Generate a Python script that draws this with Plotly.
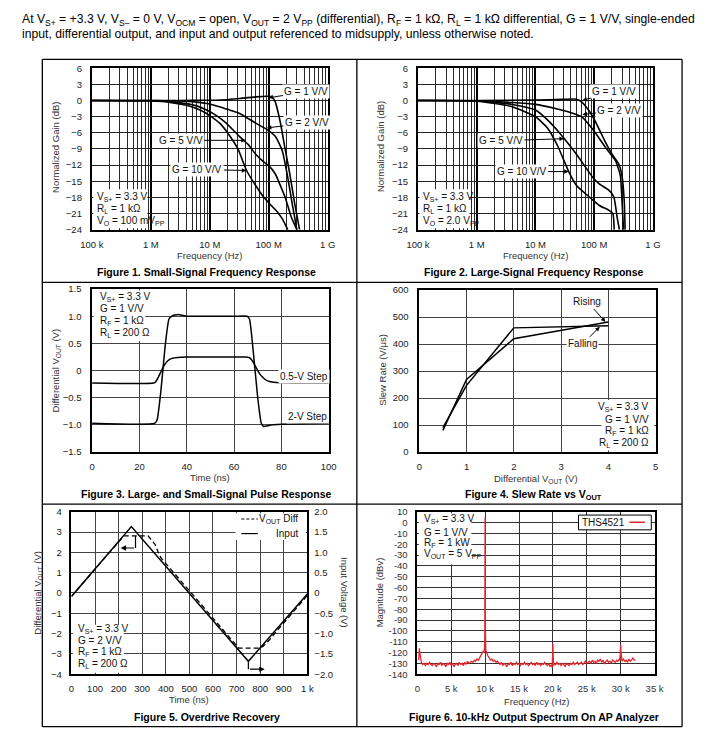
import math
import plotly.graph_objects as go

# The page body adds an 8 px margin, so the figure is drawn 8 px smaller and
# all target pixel positions are shifted by that margin.
OFF = 8
W, H = 726 - OFF, 741 - OFF
FONT = "Liberation Sans, Arial, sans-serif"
NARROW = "Liberation Sans Narrow, Arial Narrow, Liberation Sans, sans-serif"

def PX(px):
    return (px - OFF) / W

def PY(py):
    return 1 - (py - OFF) / H

# ---------------- DATA ----------------
# Figure 1: small-signal frequency response (Hz, dB)
f1_g1_freq = [1e5, 3e6, 9e6, 2e7, 3.2e7, 6e7, 9.4e7, 1.13e8, 1.29e8, 1.56e8, 1.88e8, 2.28e8, 2.76e8, 3.33e8]
f1_g1_db = [0, 0, 0.05, 0.15, 0.37, 0.67, 0.79, 0.67, -0.25, -3.9, -8.8, -13.7, -19.2, -24]
f1_g2_freq = [1e5, 1e6, 3e6, 6e6, 9e6, 1.5e7, 2.2e7, 3.2e7, 6e7, 9.4e7, 1.3e8, 1.7e8, 2.1e8, 2.5e8, 3e8]
f1_g2_db = [0, 0, -0.1, -0.3, -0.55, -1.2, -1.8, -2.4, -4.2, -5.4, -6.7, -9.4, -14.3, -19.2, -24]
f1_g5_freq = [1e5, 1e6, 3e6, 6e6, 9e6, 1.3e7, 1.9e7, 3.2e7, 4.5e7, 6e7, 8e7, 1e8, 1.3e8, 1.6e8, 1.9e8, 2.4e8, 3e8]
f1_g5_db = [0, -0.05, -0.4, -1.0, -1.8, -2.8, -4.2, -6.7, -8.2, -10, -11.3, -12.1, -13.7, -16, -18, -21.6, -24]
f1_g10_freq = [1e5, 1e6, 2e6, 4e6, 7e6, 1e7, 1.5e7, 2e7, 3e7, 4.2e7, 6e7, 8e7, 1.1e8, 1.4e8, 1.7e8, 2.1e8]
f1_g10_db = [0, -0.1, -0.3, -0.9, -1.8, -2.8, -4.3, -6, -9, -13, -15.8, -17.8, -19.5, -20.7, -22, -24]

# Figure 2: large-signal frequency response (Hz, dB)
f2_g1_freq = [1e5, 1e6, 1e7, 3e7, 5e7, 6.1e7, 8.4e7, 1.08e8, 1.48e8, 2.03e8, 2.62e8, 2.97e8, 3.24e8, 3.36e8]
f2_g1_db = [0, 0, 0.1, 0.2, 0.24, -0.24, -2.1, -4.2, -7.3, -10, -11.8, -14, -18.5, -24]
f2_g2_freq = [1e5, 1e6, 4e6, 1e7, 2.1e7, 4.4e7, 6.1e7, 9.5e7, 1.58e8, 2.31e8, 2.79e8, 2.97e8, 3.16e8]
f2_g2_db = [0, -0.06, -0.37, -0.73, -1.46, -2.4, -3.0, -5.4, -8.8, -11.2, -14, -18.5, -24]
f2_g5_freq = [1e5, 1e6, 4e6, 1e7, 1.6e7, 2.7e7, 5e7, 9.5e7, 1.22e8, 1.79e8, 2.16e8, 2.45e8, 2.68e8]
f2_g5_db = [0, -0.06, -0.73, -1.77, -3.6, -6.3, -10, -14.3, -15.5, -16.7, -17.9, -21.6, -24]
f2_g10_freq = [1e5, 1e6, 4e6, 1e7, 1.6e7, 2.4e7, 3.68e7, 5e7, 9.5e7, 1.22e8, 1.79e8, 2.08e8, 2.19e8]
f2_g10_db = [0, -0.12, -1.16, -3, -5.1, -8.5, -13.2, -15.8, -18.5, -19.5, -20.4, -21, -24]

# Figure 3: pulse response (ns, V)
f3_2v_t = [0, 26.5, 27.5, 29, 31, 32.5, 34, 36, 38, 40, 50, 60, 65.5, 66.5, 68, 70, 71.5, 72.5, 74, 76, 80, 90, 100]
f3_2v_v = [-0.97, -0.97, -0.9, -0.4, 0.5, 0.95, 1.01, 1.03, 1.02, 1.0, 1.0, 1.0, 1.0, 0.95, 0.4, -0.5, -0.97, -1.03, -1.02, -1.0, -0.99, -0.98, -0.97]
f3_05v_t = [0, 26, 27, 28, 29, 30, 31, 32, 33, 34, 36, 38, 40, 50, 65, 66, 67, 68, 69, 70, 71, 72, 73, 74, 75, 76, 78, 80, 90, 100]
f3_05v_v = [-0.23, -0.23, -0.2, -0.12, -0.03, 0.06, 0.13, 0.18, 0.21, 0.225, 0.24, 0.245, 0.25, 0.25, 0.25, 0.245, 0.22, 0.16, 0.08, 0.0, -0.07, -0.12, -0.16, -0.185, -0.2, -0.21, -0.22, -0.225, -0.23, -0.23]

# Figure 4: slew rate vs Vout (V, V/us)
f4_vout = [0.5, 1, 2, 4]
f4_rising = [80, 269, 420, 482]
f4_falling = [90, 247, 460, 468]

# Figure 5: overdrive recovery (ns)
f5_out_t = [0, 222, 325, 339, 355, 366, 380, 508, 709, 798, 812, 840, 867, 1000]
f5_out_v = [-0.17, 2.81, 2.81, 2.62, 2.38, 2.05, 1.72, 0.0, -2.71, -2.71, -2.63, -2.3, -1.92, -0.12]
f5_in_t = [0, 254, 750, 1000]
f5_in_v = [-0.085, 1.635, -1.68, -0.025]

# Figure 6: output spectrum (kHz, dBV)
f6_khz = [0.2, 0.3, 0.4, 0.6, 0.8, 1.0, 1.2, 1.4, 1.6, 1.8, 2.0, 2.2, 2.4, 2.6, 2.8, 3.0, 3.2, 3.4, 3.6, 3.8,
          4.0, 4.2, 4.4, 4.6, 4.8, 5.0, 5.2, 5.4, 5.6, 5.8, 6.0, 6.2, 6.4, 6.6, 6.8, 7.0, 7.2, 7.4, 7.6, 7.8,
          8.0, 8.2, 8.4, 8.6, 8.8, 9.0, 9.2, 9.4, 9.6, 9.7, 9.8, 9.9, 9.95, 10.0, 10.05, 10.1, 10.2, 10.3, 10.4, 10.6,
          10.8, 11.0, 11.2, 11.4, 11.6, 11.8, 12.0, 12.2, 12.4, 12.6, 12.8, 13.0, 13.2, 13.4, 13.6, 13.8, 14.0, 14.2, 14.4, 14.6,
          14.8, 15.0, 15.2, 15.4, 15.6, 15.8, 16.0, 16.2, 16.4, 16.6, 16.8, 17.0, 17.2, 17.4, 17.6, 17.8, 18.0, 18.2, 18.4, 18.6,
          18.8, 19.0, 19.2, 19.4, 19.6, 19.8, 19.9, 19.95, 20.0, 20.05, 20.1, 20.2, 20.4, 20.6, 20.8, 21.0, 21.2, 21.4, 21.6, 21.8,
          22.0, 22.2, 22.4, 22.6, 22.8, 23.0, 23.2, 23.4, 23.6, 23.8, 24.0, 24.2, 24.4, 24.6, 24.8, 25.0, 25.2, 25.4, 25.6, 25.8,
          26.0, 26.2, 26.4, 26.6, 26.8, 27.0, 27.2, 27.4, 27.6, 27.8, 28.0, 28.2, 28.4, 28.6, 28.8, 29.0, 29.2, 29.4, 29.6, 29.8,
          29.9, 29.95, 30.0, 30.05, 30.1, 30.2, 30.4, 30.6, 30.8, 31.0, 31.2, 31.4, 31.6, 31.8, 32.0, 32.2]
f6_dbv = [-127, -116, -122, -129, -131, -130, -132, -130, -131, -129, -131, -132, -130, -131, -133, -130, -131, -129, -132, -130,
          -131, -133, -130, -131, -129, -132, -130, -133, -131, -130, -132, -129, -131, -130, -132, -129, -131, -128, -130, -129,
          -128, -129, -127, -128, -126, -127, -125, -123, -121, -119, -120, -117, -105, 4.8, -100, -118, -119, -121, -123, -125,
          -127, -126, -128, -127, -129, -128, -130, -131, -129, -132, -130, -131, -133, -130, -131, -129, -132, -130, -131, -129,
          -131, -130, -132, -130, -131, -129, -131, -130, -132, -130, -129, -131, -130, -132, -129, -131, -130, -132, -130, -131,
          -129, -131, -132, -130, -133, -131, -134, -122, -111.7, -124, -132, -130, -131, -129, -131, -130, -132, -130, -131, -133,
          -130, -131, -132, -130, -131, -129, -131, -130, -129, -131, -130, -129, -131, -130, -128, -130, -129, -128, -130, -127,
          -129, -128, -130, -127, -128, -126, -129, -127, -130, -128, -127, -129, -128, -130, -127, -128, -129, -127, -128, -126,
          -127, -118, -112.5, -120, -127, -128, -126, -128, -127, -129, -126, -128, -127, -125, -127, -127]

# ---------------- LAYOUT GEOMETRY (target pixels) ----------------
PLOT = {
    1: (82, 325, 63, 227),
    2: (418, 660, 63, 227),
    3: (82.3, 326, 287.3, 452.7),
    4: (419.3, 662.7, 288.3, 452.7),
    5: (61, 304, 513.3, 678.3),
    6: (417.3, 661.7, 513.3, 678.3),
}

def xn(i):
    return "x" if i == 1 else f"x{i}"

def yn(i):
    return "y" if i == 1 else f"y{i}"

def dom(i):
    l, r, t, b = PLOT[i]
    return [PX(l), PX(r)], [PY(b), PY(t)]

fig = go.Figure()

def add_line(i, x, y, dash="solid", width=1.5, color="black", shape="linear", smoothing=0.6, yaxis=None):
    fig.add_trace(go.Scatter(
        x=x, y=y, xaxis=xn(i), yaxis=yaxis or yn(i), mode="lines",
        line=dict(color=color, width=width, dash=dash, shape=shape, smoothing=smoothing),
        showlegend=False, hoverinfo="skip"))

for fr, db in [(f1_g10_freq, f1_g10_db), (f1_g5_freq, f1_g5_db), (f1_g2_freq, f1_g2_db), (f1_g1_freq, f1_g1_db)]:
    add_line(1, fr, db, width=1.6, shape="spline", smoothing=0.5)
for fr, db in [(f2_g10_freq, f2_g10_db), (f2_g5_freq, f2_g5_db), (f2_g2_freq, f2_g2_db), (f2_g1_freq, f2_g1_db)]:
    add_line(2, fr, db, width=1.6, shape="spline", smoothing=0.5)
add_line(3, f3_2v_t, f3_2v_v, width=1.5, shape="spline", smoothing=0.5)
add_line(3, f3_05v_t, f3_05v_v, width=1.5, shape="spline", smoothing=0.5)
add_line(4, f4_vout, f4_rising, width=1.5)
add_line(4, f4_vout, f4_falling, width=1.5)
add_line(5, f5_out_t, f5_out_v, width=1.3, dash="5px,3px")
add_line(5, f5_in_t, f5_in_v, width=1.5, yaxis="y7")
add_line(6, [k * 1000 for k in f6_khz], f6_dbv, width=1.3, color="#e3262c")

# ---------------- AXES ----------------
TICKF = dict(size=9.5, color="#1a1a1a", family=FONT)

def base_axis(**kw):
    d = dict(showline=True, mirror=True, linecolor="black", linewidth=1.6, ticks="",
             showgrid=True, gridcolor="#3a3a3a", gridwidth=1, zeroline=False,
             tickfont=TICKF, fixedrange=True)
    d.update(kw)
    return d

layout = {}
log_minor = dict(dtick="D1", showgrid=True, gridcolor="#2a2a2a", gridwidth=1, ticks="")
for i in (1, 2):
    xd, yd = dom(i)
    layout["xaxis" if i == 1 else f"xaxis{i}"] = base_axis(
        domain=xd, anchor=yn(i), type="log", range=[5, 9],
        tickvals=[1e5, 1e6, 1e7, 1e8, 1e9], ticktext=["100 k", "1 M", "10 M", "100 M", "1 G"],
        gridcolor="black", gridwidth=2.2, minor=log_minor, ticklabelstandoff=5, linewidth=2)
    layout["yaxis" if i == 1 else f"yaxis{i}"] = base_axis(
        domain=yd, anchor=xn(i), range=[-24, 6], tickvals=list(range(-24, 7, 3)),
        gridcolor="#222", gridwidth=1.3, ticklabelstandoff=6, linewidth=2)

xd, yd = dom(3)
layout["xaxis3"] = base_axis(domain=xd, anchor="y3", range=[0, 100], tickvals=[0, 20, 40, 60, 80, 100],
                             ticklabelstandoff=5, gridcolor="#444", gridwidth=1.2)
layout["yaxis3"] = base_axis(domain=yd, anchor="x3", range=[-1.5, 1.5],
                             tickvals=[-1.5, -1.0, -0.5, 0, 0.5, 1.0, 1.5],
                             ticktext=["−1.5", "−1.0", "−0.5", "0", "0.5", "1.0", "1.5"],
                             ticklabelstandoff=7, gridcolor="#444", gridwidth=1.2)
xd, yd = dom(4)
layout["xaxis4"] = base_axis(domain=xd, anchor="y4", range=[0, 5], tickvals=[0, 1, 2, 3, 4, 5],
                             ticklabelstandoff=5, gridcolor="#444", gridwidth=1.2)
layout["yaxis4"] = base_axis(domain=yd, anchor="x4", range=[0, 600], tickvals=[0, 100, 200, 300, 400, 500, 600],
                             ticklabelstandoff=7, gridcolor="#444", gridwidth=1.2)
xd, yd = dom(5)
layout["xaxis5"] = base_axis(domain=xd, anchor="y5", range=[0, 1000], tickvals=list(range(0, 1001, 100)),
                             ticktext=["0", "100", "200", "300", "400", "500", "600", "700", "800", "900", "1 k"],
                             ticklabelstandoff=5, gridcolor="#444", gridwidth=1.2)
layout["yaxis5"] = base_axis(domain=yd, anchor="x5", range=[-4, 4], tickvals=list(range(-4, 5)),
                             ticktext=["−4", "−3", "−2", "−1", "0", "1", "2", "3", "4"],
                             ticklabelstandoff=6, gridcolor="#444", gridwidth=1.2)
layout["yaxis7"] = dict(overlaying="y5", anchor="x5", side="right", range=[-2, 2],
                        tickvals=[-2, -1.5, -1, -0.5, 0, 0.5, 1, 1.5, 2],
                        ticktext=["−2.0", "−1.5", "−1.0", "−0.5", "0", "0.5", "1.0", "1.5", "2.0"],
                        showgrid=False, zeroline=False, showline=False, ticks="", tickfont=TICKF,
                        ticklabelstandoff=6, fixedrange=True)
xd, yd = dom(6)
layout["xaxis6"] = base_axis(domain=xd, anchor="y6", range=[0, 35000], tickvals=list(range(0, 35001, 5000)),
                             ticktext=["0", "5 k", "10 k", "15 k", "20 k", "25 k", "30 k", "35 k"],
                             ticklabelstandoff=5, gridcolor="#333", gridwidth=1.2,
                             tickfont=dict(size=9.5, color="#333", family=FONT))
layout["yaxis6"] = base_axis(domain=yd, anchor="x6", range=[-140, 10], tickvals=list(range(-140, 11, 10)),
                             ticktext=[str(v) for v in range(-140, 11, 10)],
                             ticklabelstandoff=6, gridcolor="#333", gridwidth=1.2,
                             tickfont=dict(size=9.5, color="#333", family=FONT))

# ---------------- SHAPES ----------------
shapes = []
for y in (54, 280.5, 505.5, 731.5):
    shapes.append(dict(type="line", xref="paper", yref="paper", x0=PX(31), x1=PX(690), y0=PY(y), y1=PY(y),
                       line=dict(color="black", width=1.3)))
for x in (31, 355, 690):
    shapes.append(dict(type="line", xref="paper", yref="paper", x0=PX(x), x1=PX(x), y0=PY(54), y1=PY(731.5),
                       line=dict(color="black", width=1.3)))

def white_box(l, t, r, b, line=None):
    shapes.append(dict(type="rect", xref="paper", yref="paper", x0=PX(l), x1=PX(r), y0=PY(b), y1=PY(t),
                       fillcolor="white", line=line or dict(width=0), layer="above"))

white_box(83.5, 186, 139, 225.5)
white_box(419.5, 186, 471, 225.5)
white_box(83.8, 288.8, 137, 340)
white_box(607, 400, 661.2, 451.2)
white_box(62.5, 628, 115, 676.8)
white_box(230, 514.8, 302.5, 542)
white_box(418.8, 514.8, 473, 567)
white_box(583.3, 516.7, 658.3, 531.7, line=dict(color="black", width=1))

shapes.append(dict(type="line", xref="paper", yref="paper", x0=PX(635.7), x1=PX(651.7), y0=PY(524), y1=PY(524),
                   line=dict(color="#e3262c", width=1.5), layer="above"))
for py, dash in ((520.7, "3px,2px"), (535.5, "solid")):
    shapes.append(dict(type="line", xref="paper", yref="paper", x0=PX(236), x1=PX(253), y0=PY(py), y1=PY(py),
                       line=dict(color="black", width=1.2, dash=dash), layer="above"))
shapes.append(dict(type="line", xref="x5", yref="y5", x0=271.6, x1=271.6, y0=2.81, y1=2.215,
                   line=dict(color="black", width=1.2), layer="above"))
shapes.append(dict(type="line", xref="x5", yref="y5", x0=750, x1=750, y0=-3.36, y1=-3.75,
                   line=dict(color="black", width=1.2), layer="above"))

# ---------------- ANNOTATIONS ----------------
ann = []

def text_px(s, px, py, xanchor="left", size=10, color="#111", family=FONT, bg=None, angle=0):
    a = dict(text=s, xref="paper", yref="paper", x=PX(px), y=PY(py), xanchor=xanchor, yanchor="middle",
             showarrow=False, font=dict(family=family, size=size, color=color), textangle=angle)
    if bg:
        a["bgcolor"] = bg
    ann.append(a)

text_px("At V<sub>S+</sub> = +3.3 V, V<sub>S–</sub> = 0 V, V<sub>OCM</sub> = open, V<sub>OUT</sub> = 2 V<sub>PP</sub> (differential), "
        "R<sub>F</sub> = 1 kΩ, R<sub>L</sub> = 1 kΩ differential, G = 1 V/V, single-ended", 8, 14, size=12.2, family=NARROW, color="#000")
text_px("input, differential output, and input and output referenced to midsupply, unless otherwise noted.",
        8, 28, size=12.2, family=NARROW, color="#000")

for s, cx, cy in [("Figure 1. Small-Signal Frequency Response", 200, 270),
                  ("Figure 2. Large-Signal Frequency Response", 537, 270),
                  ("Figure 3. Large- and Small-Signal Pulse Response", 200, 495),
                  ("Figure 4. Slew Rate vs V<sub>OUT</sub>", 537, 496),
                  ("Figure 5. Overdrive Recovery", 201, 722),
                  ("Figure 6. 10-kHz Output Spectrum On AP Analyzer", 537, 722)]:
    text_px(f"<b>{s}</b>", cx, cy, xanchor="center", size=10.5, color="#000")

AXC = "#333"
for s, cx, cy in [("Frequency (Hz)", 203, 253), ("Frequency (Hz)", 539, 253), ("Time (ns)", 204, 479),
                  ("Differential V<sub>OUT</sub> (V)", 540, 480), ("Time (ns)", 182, 704),
                  ("Frequency (Hz)", 540, 706)]:
    text_px(s, cx, cy, xanchor="center", size=9.5, color=AXC)
for s, cx, cy, ang in [("Normalized Gain (dB)", 45, 143, -90), ("Normalized Gain (dB)", 380, 143, -90),
                       ("Differential V<sub>OUT</sub> (V)", 45, 370, -90), ("Slew Rate (V/μs)", 382, 370, -90),
                       ("Differential V<sub>OUT</sub> (V)", 27, 595, -90), ("Input Voltage (V)", 343, 595, 90),
                       ("Magnitude (dBv)", 378, 595, -90)]:
    text_px(s, cx, cy, xanchor="center", size=9.5, color=AXC, angle=ang)

for lines, x0, ys, anchor in [
    (["V<sub>S+</sub> = 3.3 V", "R<sub>L</sub> = 1 kΩ", "V<sub>O</sub> = 100 mV<sub>PP</sub>"], 85, [193.3, 205.7, 217.7], "left"),
    (["V<sub>S+</sub> = 3.3 V", "R<sub>L</sub> = 1 kΩ", "V<sub>O</sub> = 2.0 V<sub>PP</sub>"], 421, [193.3, 205.7, 217.7], "left"),
    (["V<sub>S+</sub> = 3.3 V", "G = 1 V/V", "R<sub>F</sub> = 1 kΩ", "R<sub>L</sub> = 200 Ω"], 88.3, [295.7, 307.3, 319.3, 331.7], "left"),
    (["V<sub>S+</sub> = 3.3 V", "G = 1 V/V", "R<sub>F</sub> = 1 kΩ", "R<sub>L</sub> = 200 Ω"], 657.7, [407.3, 419.3, 431, 443.3], "right"),
    (["V<sub>S+</sub> = 3.3 V", "G = 2 V/V", "R<sub>F</sub> = 1 kΩ", "R<sub>L</sub> = 200 Ω"], 66, [632.3, 644.3, 656, 668.3], "left"),
    (["V<sub>S+</sub> = 3.3 V", "G = 1 V/V", "R<sub>F</sub> = 1 kW", "V<sub>OUT</sub> = 5 V<sub>PP</sub>"], 421.7, [520.7, 534, 545.5, 556.7], "left"),
]:
    for s, y in zip(lines, ys):
        text_px(s, x0, y, xanchor=anchor, size=10)

text_px("0.5-V Step", 300.7, 376, xanchor="center", size=10, bg="white")
text_px("2-V Step", 304, 416.7, xanchor="center", size=10, bg="white")
text_px("V<sub>OUT</sub> Diff", 296.7, 520.7, xanchor="right", size=10)
text_px("Input", 296.7, 535.5, xanchor="right", size=10)
text_px("THS4521", 609, 524, xanchor="center", size=10)

def arrow_label(i, x, y, dx, dy, s):
    ann.append(dict(text=s, xref=xn(i), yref=yn(i), x=x, y=y, ax=dx, ay=dy, showarrow=True,
                    arrowhead=2, arrowsize=0.9, arrowwidth=1, arrowcolor="black", standoff=0,
                    font=dict(family=FONT, size=10, color="#111"), bgcolor="white", borderpad=1))

arrow_label(1, math.log10(9.9e7), 0.5, 38, -6, "G = 1 V/V")
arrow_label(1, math.log10(9.3e7), -5.1, 40, -5, "G = 2 V/V")
arrow_label(1, math.log10(4.07e7), -7.4, -65, 0, "G = 5 V/V")
arrow_label(1, math.log10(4.17e7), -13.0, -49, -1, "G = 10 V/V")
arrow_label(2, math.log10(6.3e7), 0.0, 32, -9, "G = 1 V/V")
arrow_label(2, math.log10(6.3e7), -2.6, 37, -4, "G = 2 V/V")
arrow_label(2, math.log10(3.05e7), -7.1, -63, 2, "G = 5 V/V")
arrow_label(2, math.log10(3.68e7), -13.2, -47, 0, "G = 10 V/V")
arrow_label(4, 3.94, 482, -18, -20, "Rising")
arrow_label(4, 3.82, 464, -17, 17, "Falling")

for tipx, tipy, tailx in ((208.6, 2.215, 271.6), (819, -3.75, 750)):
    ann.append(dict(text="", xref="x5", yref="y5", x=tipx, y=tipy, axref="x5", ayref="y5", ax=tailx, ay=tipy,
                    showarrow=True, arrowhead=2, arrowsize=0.9, arrowwidth=1.2, arrowcolor="black", standoff=0))

fig.update_layout(
    width=W, height=H, margin=dict(l=0, r=0, t=0, b=0), autosize=False,
    paper_bgcolor="white", plot_bgcolor="white", showlegend=False,
    font=dict(family=FONT, size=10, color="#111"),
    shapes=shapes, annotations=ann, **layout)

fig.write_html("out.html")
